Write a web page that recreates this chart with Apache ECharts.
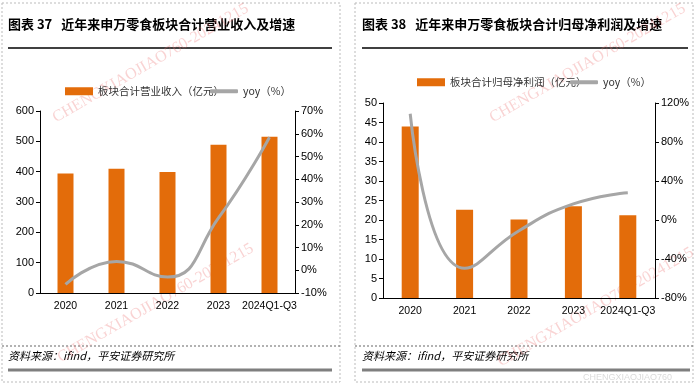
<!DOCTYPE html>
<html><head><meta charset="utf-8">
<script src="https://cdn.jsdelivr.net/npm/echarts@6/dist/echarts.min.js"></script>
<style>html,body{margin:0;padding:0;background:#fff}#c{width:700px;height:385px}</style>
</head><body><div id="c"></div>
<script>
const categories = ['2020','2021','2022','2023','2024Q1-Q3'];
const revenue = [394, 410, 399, 489, 515];
const revenueYoy = [-6.2, 3.9, -3.0, 23.0, 58.5];
const profit = [44.0, 22.6, 20.1, 23.5, 21.2];
const profitYoy = [109, -49.5, -11, 16.5, 28];
const revTicks = {min:0, max:600, interval:100};
const revYoyTicks = {min:-10, max:70, interval:10};
const proTicks = {min:0, max:50, interval:5};
const proYoyTicks = {min:-80, max:120, interval:40};

const ORANGE = '#e36c0a', GRAY = '#a6a6a6';
const FONT = 'Liberation Sans, Arial, "Noto Sans CJK SC", sans-serif';
const CJK = '"Noto Sans CJK SC", sans-serif';
const axisLbl = {color:'#000', fontSize:11, fontFamily:FONT};
const axisLine = {show:true, lineStyle:{color:'#000', width:1}};

function yAx(grid, t, pos, pct){
  return {type:'value', gridIndex:grid, position:pos, min:t.min, max:t.max, interval:t.interval,
    axisLine:axisLine, axisTick:{show:true, length:4, lineStyle:{color:'#000'}},
    splitLine:{show:false}, axisLabel:Object.assign({margin:6, formatter: pct ? '{value}%' : '{value}'}, axisLbl)};
}
function xAx(grid){
  return {type:'category', gridIndex:grid, data:categories, axisLine:axisLine,
    axisTick:{show:false}, axisLabel:Object.assign({margin:8, interval:0}, axisLbl, {fontSize:10.5})};
}
const legText = {color:'#333', fontSize:10.5, fontFamily:CJK};
function wm(x,y,txt,rot){
  return {type:'text', x:x, y:y, rotation:rot*Math.PI/180, silent:true,
    style:{text:txt, fill:'rgba(235,110,110,0.3)', font:'16px "Liberation Serif", serif'}};
}
const option = {
  animation:false,
  grid:[
    {left:40, top:111, width:255, height:182},
    {left:383, top:103, width:272, height:195}
  ],
  xAxis:[xAx(0), xAx(1)],
  yAxis:[yAx(0,revTicks,'left',false), yAx(0,revYoyTicks,'right',true),
         yAx(1,proTicks,'left',false), yAx(1,proYoyTicks,'right',true)],
  legend:[
    {data:['板块合计营业收入（亿元）'], left:60, top:81, itemWidth:28, itemHeight:8, itemGap:5, icon:'rect', textStyle:legText},
    {data:['yoy（%） '], left:205, top:81, itemWidth:28, itemHeight:4, icon:'roundRect', textStyle:legText},
    {data:['板块合计归母净利润（亿元）'], left:412, top:72, itemWidth:28, itemHeight:8, icon:'rect', textStyle:legText},
    {data:['yoy（%）'], left:565, top:72, itemWidth:28, itemHeight:4, icon:'roundRect', textStyle:legText}
  ],
  series:[
    {name:'板块合计营业收入（亿元）', type:'bar', xAxisIndex:0, yAxisIndex:0, data:revenue, barWidth:16, itemStyle:{color:ORANGE}},
    {name:'yoy（%） ', type:'line', xAxisIndex:0, yAxisIndex:1, data:revenueYoy, smooth:0.5, showSymbol:false, symbol:'none',
      lineStyle:{color:GRAY, width:3}, itemStyle:{color:GRAY}},
    {name:'板块合计归母净利润（亿元）', type:'bar', xAxisIndex:1, yAxisIndex:2, data:profit, barWidth:17, itemStyle:{color:ORANGE}},
    {name:'yoy（%）', type:'line', xAxisIndex:1, yAxisIndex:3, data:profitYoy, smooth:0.5, showSymbol:false, symbol:'none',
      lineStyle:{color:GRAY, width:3}, itemStyle:{color:GRAY}}
  ],
  graphic:[
    {type:'rect', shape:{x:2, y:3, width:338, height:379}, style:{fill:'none', stroke:'#bbb', lineWidth:1, lineDash:[2,2]}, silent:true},
    {type:'rect', shape:{x:355, y:3, width:338, height:379}, style:{fill:'none', stroke:'#bbb', lineWidth:1, lineDash:[2,2]}, silent:true},
    {type:'line', shape:{x1:2, y1:346, x2:340, y2:346}, style:{stroke:'#666', lineWidth:1, lineDash:[2,2]}, silent:true},
    {type:'line', shape:{x1:355, y1:346, x2:693, y2:346}, style:{stroke:'#666', lineWidth:1, lineDash:[2,2]}, silent:true},
    {type:'text', x:8, y:18, style:{text:'图表 37   近年来申万零食板块合计营业收入及增速', fill:'#000', font:'bold 13px "Noto Sans CJK SC", sans-serif'}},
    {type:'text', x:362, y:18, style:{text:'图表 38   近年来申万零食板块合计归母净利润及增速', fill:'#000', font:'bold 13px "Noto Sans CJK SC", sans-serif'}},
    {type:'line', shape:{x1:8, y1:48, x2:332, y2:48}, style:{stroke:'#000', lineWidth:1.5}},
    {type:'line', shape:{x1:362, y1:48, x2:688, y2:48}, style:{stroke:'#000', lineWidth:1.5}},
    {type:'text', x:8, y:350, style:{text:'资料来源：ifind，平安证券研究所', fill:'#000', font:'italic 11px "Noto Sans CJK SC", sans-serif'}},
    {type:'text', x:362, y:350, style:{text:'资料来源：ifind，平安证券研究所', fill:'#000', font:'italic 11px "Noto Sans CJK SC", sans-serif'}},
    {type:'line', shape:{x1:8, y1:370, x2:332, y2:370}, style:{stroke:'#7f7f7f', lineWidth:3}},
    {type:'line', shape:{x1:362, y1:370, x2:690, y2:370}, style:{stroke:'#7f7f7f', lineWidth:3}},
    wm(50,112,'CHENGXIAOJIAO760-20241215',30),
    wm(55,352,'CHENGXIAOJIAO760-20241215',30),
    wm(487,112,'CHENGXIAOJIAO760-20241215',30),
    wm(495,356,'CHENGXIAOJIAO760-20241215',30),
    {type:'text', x:583, y:373, silent:true, style:{text:'CHENGXIAOJIAO760', fill:'rgba(150,150,150,0.35)', font:'9px "Liberation Sans", sans-serif'}}
  ]
};
echarts.init(document.getElementById('c')).setOption(option);
</script></body></html>
